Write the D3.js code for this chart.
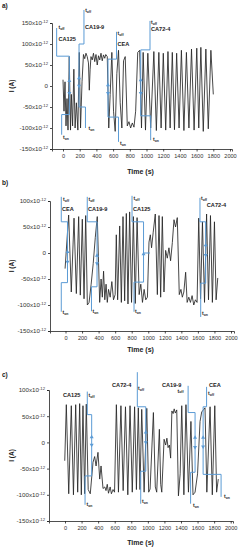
<!DOCTYPE html>
<html>
<head>
<meta charset="utf-8">
<script src="https://d3js.org/d3.v7.min.js"></script>
<style>
  body { margin: 0; background: #fff; }
  svg { font-family: "Liberation Sans", Arial, sans-serif; }
  .signal { fill: none; stroke: #262626; stroke-width: 0.85; stroke-linejoin: round; }
  .step { fill: none; stroke: #5b9bd5; stroke-width: 1; }
  .mark { fill: #5b9bd5; }
  .axis path, .axis line { stroke: #222; stroke-width: 0.8; }
  .axis text { fill: #333; }
  .lab { fill: #222; font-weight: bold; }
</style>
</head>
<body>
<svg width="248" height="550"></svg>
<script>
// ticks
const xTicks = [0, 200, 400, 600, 800, 1000, 1200, 1400, 1600, 1800, 2000];
const yTicksA = [150, 100, 50, 0, -50, -100, -150];
const yTicksBC = [100, 50, 0, -50, -100, -150];

// current traces, [time s, current pA]
const signalA = [
  [0,15],[12,-60],[24,10],[36,-95],[48,-30],[60,-105],[75,70],[90,-105],[100,-20],[115,-95],[130,40],[145,-100],
  [160,-40],[178,-105],[195,80],[210,-100],[228,10],[245,75],
  [260,65],[275,78],[290,70],[305,55],[315,-10],[325,40],[335,70],[350,62],[365,78],[380,58],[395,75],[410,50],
  [425,72],[440,62],[455,78],[470,60],[485,74],[500,66],[512,75],
  [530,70],[548,-100],[565,-20],[585,80],[605,-60],[625,-108],[645,30],[665,85],[685,-40],[705,-100],[725,60],
  [745,70],[770,-95],[790,-85],[810,-100],[830,-88],[850,-98],[870,-60],[895,80],[918,85],
  [940,-100],[960,80],[988,-105],[1016,78],[1050,-100],[1088,82],[1118,-106],[1148,80],[1175,-100],[1201,78],
  [1230,-105],[1257,82],[1283,-100],[1309,80],[1335,-104],[1361,78],[1390,-100],[1418,85],[1448,-106],[1478,80],
  [1508,-100],[1539,88],[1570,-105],[1602,90],[1626,-100],[1651,92],[1680,-108],[1711,88],[1740,-102],[1771,85],
  [1800,-20]
];
const signalB = [
  [-5,-30],[38,73],[70,-75],[103,67],[131,-78],[159,70],[179,-81],[203,65],[224,-88],[244,72],[264,-100],[285,-95],
  [310,-60],[335,-20],[360,30],[384,70],[413,-95],[430,-50],[445,-85],[460,-35],[475,-90],[490,-60],[505,-95],
  [520,-70],[540,-85],[560,-55],[580,-90],[600,-80],[614,35],[630,-90],[655,52],[675,-95],[695,70],[715,-92],
  [735,76],[755,-98],[775,79],[798,-95],[820,70],[843,-97],[865,68],[890,-80],[910,-60],[930,-95],[950,-70],
  [970,-90],[990,-85],[1009,21],[1025,35],[1040,10],[1060,40],[1085,75],[1110,-80],[1130,72],[1150,-85],[1170,70],
  [1190,-75],[1210,5],[1230,-10],[1250,10],[1270,-15],[1291,20],[1311,64],[1330,50],[1351,68],[1375,-80],
  [1395,-70],[1412,-85],[1430,-75],[1452,-37],[1470,-95],[1490,-85],[1510,-95],[1530,-82],[1550,-100],[1570,-90],
  [1590,-95],[1610,67],[1632,-88],[1655,60],[1680,-95],[1705,75],[1728,-90],[1752,72],[1775,-95],[1800,60],
  [1820,-90],[1840,-48]
];
const signalC = [
  [-3,-35],[16,72],[45,-98],[76,70],[102,-100],[129,72],[153,-95],[177,74],[197,-100],[217,70],[237,-98],[257,73],
  [280,-90],[305,-98],[338,-38],[358,-27],[375,-45],[398,-19],[419,-70],[435,-45],[459,-88],[480,-85],[495,-92],
  [510,-80],[525,-97],[545,-85],[560,-98],[580,-90],[598,-95],[620,72],[645,-95],[675,70],[702,-92],[730,68],
  [758,-100],[785,70],[812,-95],[840,68],[862,-90],[885,66],[905,-90],[926,63],[955,-95],[987,65],[1010,-95],
  [1027,-89],[1067,57],[1090,-85],[1107,-95],[1139,25],[1155,-80],[1168,-95],[1196,6],[1215,-5],[1230,8],
  [1244,-10],[1260,-5],[1275,-30],[1290,60],[1305,55],[1318,64],[1332,56],[1349,62],[1369,-102],[1390,-60],
  [1409,70],[1435,-100],[1460,72],[1490,-95],[1520,40],[1545,-100],[1570,-95],[1600,-60],[1630,40],[1650,58],
  [1670,62],[1690,66],[1712,-95],[1751,68],[1778,-100],[1808,70],[1830,-95],[1850,-70]
];

// injection steps: path = [t top, t middle, t bottom, I top, I upper, I lower, I bottom]
const annotA = [
  { name: "CA125", path: [-76, 76, -16, 138, 71, -68, -116], marks: [12, -17], nameAt: [-54, 108], offAt: [-54, 136], onAt: [0, -126] },
  { name: "CA19-9", path: [251, 192, 269, 181, 100, -50, -100], marks: [19, 0], nameAt: [263, 136], offAt: [265, 176], onAt: [305, -105] },
  { name: "CEA", path: [641, 539, 665, 129, 64, -74, -133], marks: [2, -17], nameAt: [653, 95], offAt: [653, 121], onAt: [683, -140] },
  { name: "CA72-4", path: [1042, 931, 1050, 155, 86, -71, -129], marks: [14, -17], nameAt: [1054, 131], offAt: [1054, 148], onAt: [1078, -131] }
];
const annotB = [
  { name: "CEA", path: [-51, 24, -51, 108, 60, -57, -113], marks: [2, -17], nameAt: [-42, 81], offAt: [-30, 100], onAt: [-36, -117] },
  { name: "CA19-9", path: [263, 381, 314, 108, 60, -65, -112], marks: [-5, -20], nameAt: [272, 81], offAt: [278, 100], onAt: [326, -115] },
  { name: "CA125", path: [804, 943, 828, 110, 60, -56, -113], marks: [-2], extra: [[943, 0], [1021, 0]], nameAt: [816, 81], offAt: [822, 102], onAt: [840, -115] },
  { name: "CA72-4", path: [1625, 1694, 1634, 106, 60, -58, -123], marks: [15, -4], nameAt: [1708, 88], offAt: [1637, 102], onAt: [1650, -119] }
];
const annotC = [
  { name: "CA125", path: [269, 322, 242, 97, 53, -64, -119], marks: [10, -5], nameAt: [-24, 87], offAt: [284, 87], onAt: [260, -121] },
  { name: "CA72-4", path: [873, 975, 914, 134, 68, -55, -117], marks: [19, 0], nameAt: [568, 106], offAt: [882, 100], onAt: [930, -116] },
  { name: "CA19-9", path: [1486, 1570, 1516, 108, 57, -57, -117], marks: [9, -9], nameAt: [1171, 106], offAt: [1359, 95], onAt: [1546, -123] },
  { name: "CEA", path: [1709, 1667, 1884, 106, 68, -61, -104], marks: [9, -8], nameAt: [1739, 106], offAt: [1727, 91], onAt: [1920, -106] }
];

const panels = [
  { letter: "a)", letterY: 8, left: 52, right: 232, x0: 63, x2000: 230, top: 23, bottom: 149, yTicks: yTicksA, timeY: 173.5, signal: signalA, annot: annotA },
  { letter: "b)", letterY: 185, left: 50, right: 234, x0: 65.5, x2000: 231, top: 201, bottom: 331, yTicks: yTicksBC, timeY: 352, signal: signalB, annot: annotB },
  { letter: "c)", letterY: 377, left: 49, right: 233, x0: 65, x2000: 230.7, top: 390, bottom: 521, yTicks: yTicksBC, timeY: 545, signal: signalC, annot: annotC }
];

const svg = d3.select("svg");

panels.forEach(p => {
  const k = (p.x2000 - p.x0) / 2000;
  const x = d3.scaleLinear().domain([(p.left - p.x0) / k, (p.right - p.x0) / k]).range([p.left, p.right]);
  const y = d3.scaleLinear().domain(d3.extent(p.yTicks)).range([p.bottom, p.top]);
  const g = svg.append("g");

  // axes
  const gx = g.append("g").attr("class", "axis")
    .attr("transform", "translate(0," + p.bottom + ")")
    .call(d3.axisBottom(x).tickValues(xTicks).tickFormat(d => String(d))
      .tickSizeOuter(0).tickSize(2.5).tickPadding(3));
  gx.selectAll("text").attr("font-size", "5.6px");

  const gy = g.append("g").attr("class", "axis")
    .attr("transform", "translate(" + p.left + ",0)")
    .call(d3.axisLeft(y).tickValues(p.yTicks).tickSizeOuter(0).tickSize(2).tickPadding(2));
  gy.selectAll(".tick text").attr("font-size", "6.2px").each(function (d) {
    const t = d3.select(this).text(null);
    if (d === 0) { t.text("0"); return; }
    t.append("tspan").text(d + "x10");
    t.append("tspan").attr("dy", "-0.5em").attr("font-size", "4.2px").text("-12");
  });

  // titles
  g.append("text").attr("class", "lab").attr("x", 2).attr("y", p.letterY).attr("font-size", "6.5px").text(p.letter);
  g.append("text").attr("class", "lab").attr("x", 140.5).attr("y", p.timeY)
    .attr("text-anchor", "middle").attr("font-size", "7px").text("Time (s)");
  g.append("text").attr("class", "lab").attr("font-size", "6.5px").attr("text-anchor", "middle")
    .attr("transform", "translate(14," + (p.top + p.bottom) / 2 + ") rotate(-90)").text("I (A)");

  // trace
  const line = d3.line().x(d => x(d[0])).y(d => y(d[1]));
  g.append("path").datum(p.signal).attr("class", "signal").attr("d", line);

  // injection annotations
  p.annot.forEach(a => {
    const [ta, tb, tc, i0, i1, i2, i3] = a.path;
    const pts = [[ta, i0], [ta, i1], [tb, i1], [tb, i2], [tc, i2], [tc, i3]];
    g.append("path").datum(pts).attr("class", "step").attr("d", line);
    if (a.extra) g.append("path").datum(a.extra).attr("class", "step").attr("d", line);
    a.marks.forEach((m, j) => {
      g.append("path").attr("class", "mark")
        .attr("d", d3.symbol(d3.symbolTriangle, 7)())
        .attr("transform", "translate(" + x(tb) + "," + y(m) + ") rotate(" + (j === 0 ? 0 : 180) + ")");
    });
    g.append("text").attr("class", "lab").attr("font-size", "5.6px")
      .attr("x", x(a.nameAt[0])).attr("y", y(a.nameAt[1])).text(a.name);
    [["off", a.offAt], ["on", a.onAt]].forEach(([sub, at]) => {
      const t = g.append("text").attr("class", "lab").attr("font-size", "5px")
        .attr("x", x(at[0])).attr("y", y(at[1]));
      t.append("tspan").text("t");
      t.append("tspan").attr("dy", "0.25em").attr("font-size", "3.4px").text(sub);
    });
  });
});
</script>
</body>
</html>
